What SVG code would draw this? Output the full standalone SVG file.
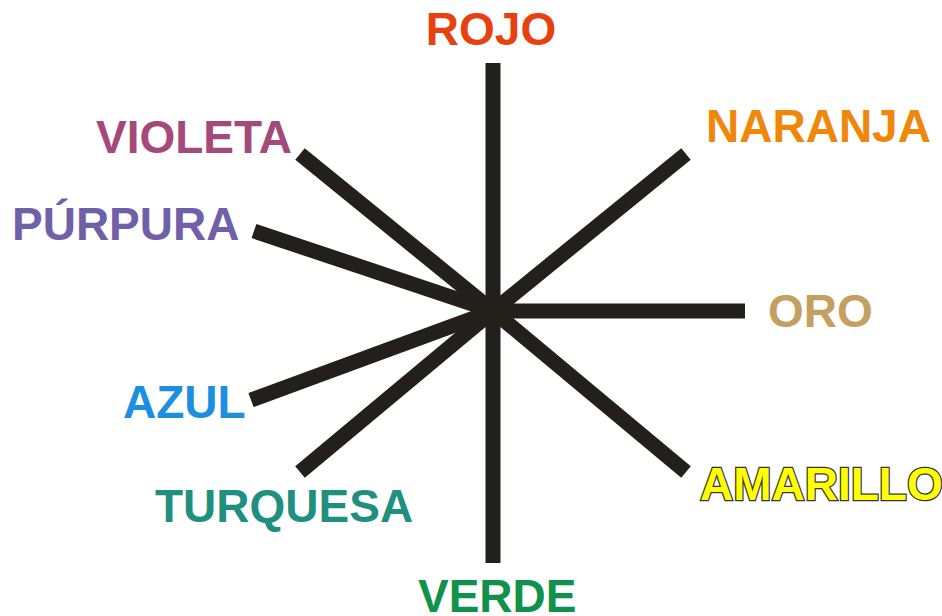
<svg xmlns="http://www.w3.org/2000/svg" width="942" height="616" viewBox="0 0 942 616">
<style>
.t{font-family:"Liberation Sans",Arial,sans-serif;font-weight:bold;font-size:46px}
.c line{stroke:#231f1a;stroke-width:15;stroke-linecap:butt}
</style>
<rect width="942" height="616" fill="#fff"/>
<g class="c" id="connectors">
<line x1="493" y1="311" x2="493" y2="63"/>
<line x1="493" y1="311" x2="493" y2="563"/>
<line x1="493" y1="311" x2="686" y2="154"/>
<line x1="493" y1="311" x2="745" y2="311"/>
<line x1="493" y1="311" x2="686" y2="472"/>
<line x1="493" y1="311" x2="300" y2="154"/>
<line x1="493" y1="311" x2="254" y2="231"/>
<line x1="493" y1="311" x2="251" y2="400"/>
<line x1="493" y1="311" x2="300" y2="472"/>
</g>
<g id="rojo"><text class="t" x="491" y="45" text-anchor="middle" fill="#e8410f">ROJO</text></g>
<g id="naranja"><text class="t" x="706" y="142" fill="#f0870b">NARANJA</text></g>
<g id="oro"><text class="t" x="768" y="327" fill="#c4a060">ORO</text></g>
<g id="amarillo"><text class="t" x="700" y="500" fill="#ffff00" stroke="#333" stroke-width="2.5" paint-order="stroke">AMARILLO</text></g>
<g id="violeta"><text class="t" x="96" y="153" fill="#a44a7a">VIOLETA</text></g>
<g id="purpura"><text class="t" x="12" y="240" fill="#7060a8">PÚRPURA</text></g>
<g id="azul"><text class="t" x="123" y="418" fill="#1e8fe0">AZUL</text></g>
<g id="turquesa"><text class="t" x="155" y="522" fill="#1f9080">TURQUESA</text></g>
<g id="verde"><text class="t" x="418" y="612" fill="#10924a">VERDE</text></g>
</svg>
